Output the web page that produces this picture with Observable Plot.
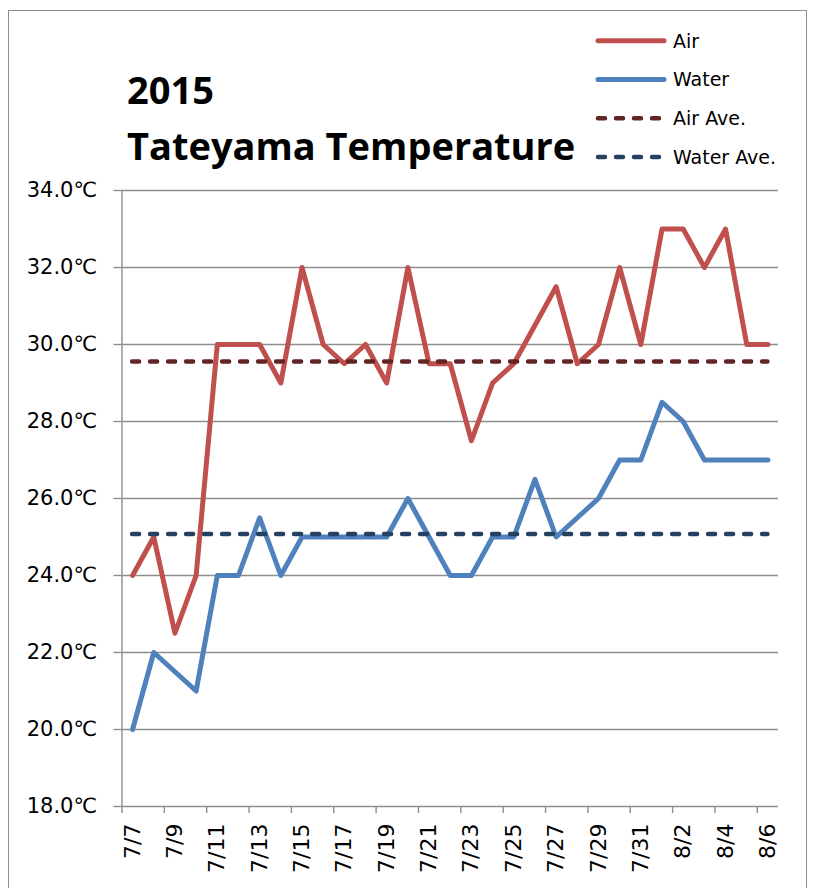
<!DOCTYPE html>
<html>
<head>
<meta charset="utf-8">
<script src="https://cdn.jsdelivr.net/npm/d3@7"></script>
<script src="https://cdn.jsdelivr.net/npm/@observablehq/plot@0.6"></script>
<style>
  body { margin: 0; background: #fff; }
  #root { position: relative; width: 814px; height: 888px; overflow: hidden; background: #fff; }
  #frame { position: absolute; left: 8px; top: 10px; width: 799px; height: 920px; border: 1.5px solid #8f8f8f; box-sizing: border-box; }
  #chart { position: absolute; left: 0; top: 0; }
  #title { position: absolute; left: 127px; top: 61px; font-family: "Open Sans", sans-serif; font-weight: bold; font-size: 38px; line-height: 56px; color: #000; white-space: nowrap; }
  #legend { position: absolute; left: 0; top: 0; }
</style>
</head>
<body>
<div id="root">
  <div id="frame"></div>
  <div id="chart"></div>
  <div id="title">2015<br>Tateyama Temperature</div>
  <svg id="legend" width="814" height="190"></svg>
</div>
<script>
// ---- data ----
const dates = ["7/7","7/8","7/9","7/10","7/11","7/12","7/13","7/14","7/15","7/16",
               "7/17","7/18","7/19","7/20","7/21","7/22","7/23","7/24","7/25","7/26",
               "7/27","7/28","7/29","7/30","7/31","8/1","8/2","8/3","8/4","8/5","8/6"];
const air = [24, 25, 22.5, 24, 30, 30, 30, 29, 32, 30,
             29.5, 30, 29, 32, 29.5, 29.5, 27.5, 29, 29.5, 30.5,
             31.5, 29.5, 30, 32, 30, 33, 33, 32, 33, 30, 30];
const water = [20, 22, 21.5, 21, 24, 24, 25.5, 24, 25, 25,
               25, 25, 25, 26, 25, 24, 24, 25, 25, 26.5,
               25, 25.5, 26, 27, 27, 28.5, 28, 27, 27, 27, 27];
const airAve = 29.56;
const waterAve = 25.08;
const yTicks = [18, 20, 22, 24, 26, 28, 30, 32, 34];
const seriesNames = ["Air", "Water", "Air Ave.", "Water Ave."];

// ---- chart ----
const gridColor = "#8e8e8e";
const airColor = "#C0504D", waterColor = "#4F81BD", airAveColor = "#632523", waterAveColor = "#254061";
const idx = d3.range(dates.length);
const labelTicks = idx.filter(i => i % 2 === 0);
const boundaryTicks = labelTicks.map(i => i - 0.5);

const chart = Plot.plot({
  width: 814,
  height: 888,
  marginLeft: 121.5,
  marginRight: 36,
  marginTop: 190,
  marginBottom: 82,
  style: { fontFamily: "DejaVu Sans", background: "transparent", color: "#000" },
  x: { type: "linear", domain: [-0.5, dates.length - 0.5] },
  y: { domain: [18, 34] },
  marks: [
    Plot.gridY(yTicks, { stroke: gridColor, strokeOpacity: 1, strokeWidth: 1.4 }),
    Plot.ruleX([-0.5], { stroke: gridColor, strokeWidth: 1.4 }),
    Plot.axisY(yTicks, {
      tickSize: 8, tickPadding: 17, fontSize: 21,
      tickFormat: d => d.toFixed(1) + "℃",
      stroke: gridColor, strokeWidth: 1.4, fill: "#000"
    }),
    Plot.axisX(boundaryTicks, {
      tickSize: 7, tickFormat: () => "",
      stroke: gridColor, strokeWidth: 1.4
    }),
    Plot.axisX(labelTicks, {
      tickSize: 0, tickPadding: 17, tickRotate: -90, fontSize: 22,
      tickFormat: i => dates[i], fill: "#000"
    }),
    Plot.lineY(air, { x: (d, i) => i, y: d => d, stroke: airColor, strokeWidth: 5, strokeLinecap: "round", strokeLinejoin: "round" }),
    Plot.lineY(water, { x: (d, i) => i, y: d => d, stroke: waterColor, strokeWidth: 5, strokeLinecap: "round", strokeLinejoin: "round" }),
    Plot.ruleY([airAve], { x1: 0, x2: dates.length - 1, stroke: airAveColor, strokeWidth: 4.5, strokeDasharray: "7,11", strokeLinecap: "round" }),
    Plot.ruleY([waterAve], { x1: 0, x2: dates.length - 1, stroke: waterAveColor, strokeWidth: 4.5, strokeDasharray: "7,11", strokeLinecap: "round" })
  ]
});
document.getElementById("chart").appendChild(chart);

// ---- legend ----
const legendStyles = [
  { color: airColor, dash: null },
  { color: waterColor, dash: null },
  { color: airAveColor, dash: "7,11" },
  { color: waterAveColor, dash: "7,11" }
];
const leg = d3.select("#legend");
seriesNames.forEach((name, i) => {
  const y = 40.7 + i * 38.8;
  const s = legendStyles[i];
  leg.append("line")
    .attr("x1", s.dash ? 598 : 598).attr("x2", s.dash ? 664 : 664)
    .attr("y1", y).attr("y2", y)
    .attr("stroke", s.color)
    .attr("stroke-width", s.dash ? 4.5 : 5)
    .attr("stroke-linecap", "round")
    .attr("stroke-dasharray", s.dash);
  leg.append("text")
    .attr("x", 673).attr("y", y)
    .attr("dy", "0.36em")
    .attr("font-family", "DejaVu Sans")
    .attr("font-size", 19)
    .attr("fill", "#000")
    .text(name);
});
</script>
</body>
</html>
